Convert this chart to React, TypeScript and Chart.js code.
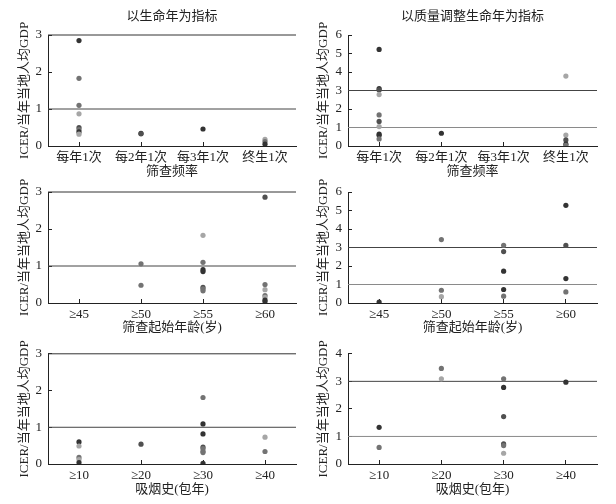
import React, { useEffect, useRef } from "react";
import { Chart, registerables } from "chart.js";

Chart.register(...registerables);

// ---------- categories ----------
const freqCats = ["每年1次", "每2年1次", "每3年1次", "终生1次"];
const ageCats = ["≥45", "≥50", "≥55", "≥60"];
const smokeCats = ["≥10", "≥20", "≥30", "≥40"];

// ---------- column / axis titles ----------
const colTitles = ["以生命年为指标", "以质量调整生命年为指标"];
const yTitle = "ICER/当年当地人均GDP";
const rowXTitles = ["筛查频率", "筛查起始年龄(岁)", "吸烟史(包年)"];

// ---------- values (per category) ----------
// 以生命年为指标 × 筛查频率
const lyFreq = [[2.85, 1.83, 1.1, 0.87, 0.5, 0.44, 0.38, 0.32], [0.34, 0.33], [0.46], [0.18, 0.12, 0.05]];
const lyFreqShade = [["d", "m", "m", "l", "g", "m", "d", "l"], ["d", "g"], ["d"], ["l", "m", "d"]];
// 以质量调整生命年为指标 × 筛查频率
const qFreq = [[5.22, 3.1, 3.03, 2.78, 1.68, 1.33, 1.05, 0.65, 0.58, 0.38], [0.69], [], [3.78, 0.59, 0.33, 0.1, 0.04]];
const qFreqShade = [["d", "d", "g", "l", "m", "g", "l", "d", "d", "m"], ["d"], [], ["l", "l", "g", "d", "m"]];
// 以生命年为指标 × 筛查起始年龄
const lyAge = [[], [1.06, 0.48], [1.83, 1.1, 0.9, 0.85, 0.42, 0.38, 0.33], [2.86, 0.5, 0.36, 0.2, 0.15, 0.08, 0.04]];
const lyAgeShade = [[], ["m", "m"], ["l", "m", "d", "d", "g", "m", "m"], ["g", "m", "l", "m", "l", "d", "d"]];
// 以质量调整生命年为指标 × 筛查起始年龄
const qAge = [[0.05], [3.43, 0.69, 0.34], [3.12, 2.78, 1.72, 0.73, 0.37], [5.28, 3.11, 1.32, 0.6]];
const qAgeShade = [["d"], ["m", "m", "l"], ["m", "g", "d", "d", "m"], ["d", "g", "d", "m"]];
// 以生命年为指标 × 吸烟史
const lySmoke = [[0.6, 0.49, 0.18, 0.12, 0.04], [0.54], [1.81, 1.09, 0.82, 0.46, 0.42, 0.35, 0.31, 0.02], [0.73, 0.34]];
const lySmokeShade = [["d", "l", "m", "l", "d"], ["g"], ["m", "d", "d", "g", "m", "m", "m", "d"], ["l", "m"]];
// 以质量调整生命年为指标 × 吸烟史
const qSmoke = [[1.33, 0.6], [3.47, 3.09], [3.09, 2.78, 1.72, 0.73, 0.67, 0.39], [2.97]];
const qSmokeShade = [["d", "m"], ["m", "l"], ["m", "d", "g", "g", "m", "l"], ["d"]];

// ---------- y ranges & reference lines ----------
const lyMax = [3, 3, 3];
const qMax = [6, 6, 4];
const refLines = [1, 3];

const SHADES: Record<string, string> = {
  d: "#333333",
  g: "#505050",
  m: "#737373",
  l: "#a6a6a6",
};

const FONT = "'Liberation Serif', 'Times New Roman', 'Noto Sans CJK SC', serif";

type PanelProps = {
  cats: string[];
  values: number[][];
  shades: string[][];
  yMax: number;
  lineColors: string[];
  title?: string;
  xTitle: string;
  left: number;
  top: number;
  width: number;
  height: number;
  padL: number;
  padR: number;
  padT: number;
  yScaleW: number;
  yTitlePad: number;
  xScaleH: number;
  xTitlePadB: number;
};

function Panel(p: PanelProps) {
  const ref = useRef<HTMLCanvasElement | null>(null);
  useEffect(() => {
    if (!ref.current) return;
    const pts: { x: number; y: number }[] = [];
    const cols: string[] = [];
    p.values.forEach((arr, i) => {
      arr.forEach((v, j) => {
        pts.push({ x: i, y: v });
        cols.push(SHADES[p.shades[i][j]] || "#555");
      });
    });
    const lineSets: any[] = refLines.map((v, k) => ({
      type: "line",
      data: [
        { x: -0.5, y: v },
        { x: p.cats.length - 0.5, y: v },
      ],
      borderColor: p.lineColors[k],
      borderWidth: 1,
      pointRadius: 0,
      fill: false,
      clip: 2,
      order: 2,
    }));
    const chart = new Chart(ref.current, {
      type: "scatter",
      data: {
        datasets: [
          ...lineSets,
          {
            type: "scatter",
            data: pts,
            backgroundColor: cols,
            pointBackgroundColor: cols,
            pointBorderWidth: 0,
            pointRadius: 2.6,
            order: 1,
          },
        ],
      },
      options: {
        animation: false,
        responsive: false,
        layout: { padding: { left: p.padL, right: p.padR, top: p.padT, bottom: 0 } },
        plugins: {
          legend: { display: false },
          tooltip: { enabled: false },
          title: p.title
            ? {
                display: true,
                text: p.title,
                fullSize: false,
                color: "#222",
                font: { family: FONT, size: 13, weight: "normal" },
                padding: { top: 8.7, bottom: 10.7 },
              }
            : { display: false },
        },
        scales: {
          x: {
            type: "linear",
            min: -0.5,
            max: p.cats.length - 0.5,
            afterBuildTicks: (s: any) => {
              s.ticks = p.cats.map((_, i) => ({ value: i }));
            },
            afterFit: (s: any) => {
              s.height = p.xScaleH;
            },
            ticks: {
              autoSkip: false,
              maxRotation: 0,
              padding: 8,
              color: "#222",
              font: { family: FONT, size: 13 },
              callback: (v: any) => p.cats[Math.round(Number(v))] ?? "",
            },
            grid: { drawOnChartArea: false, tickLength: -4, color: "#222", lineWidth: 1 },
            border: { display: true, color: "#222", width: 1 },
            title: {
              display: true,
              text: p.xTitle,
              color: "#222",
              font: { family: FONT, size: 13 },
              padding: { top: 0, bottom: p.xTitlePadB },
            },
          },
          y: {
            type: "linear",
            min: 0,
            max: p.yMax,
            afterFit: (s: any) => {
              s.width = p.yScaleW;
            },
            ticks: {
              stepSize: 1,
              autoSkip: false,
              padding: 10,
              color: "#222",
              font: { family: FONT, size: 13 },
            },
            grid: { drawOnChartArea: false, tickLength: -4, color: "#222", lineWidth: 1 },
            border: { display: true, color: "#222", width: 1 },
            title: {
              display: true,
              text: yTitle,
              color: "#222",
              font: { family: FONT, size: 13 },
              padding: { top: p.yTitlePad, bottom: 0 },
            },
          },
        },
      } as any,
    });
    return () => chart.destroy();
  }, []);
  return (
    <canvas
      ref={ref}
      width={p.width}
      height={p.height}
      style={{ position: "absolute", left: p.left, top: p.top, width: p.width, height: p.height }}
    />
  );
}

const rows = [
  { top: 0, height: 182, padT: 0, xScaleH: 36, xTitlePadB: 2.7 },
  { top: 174, height: 166, padT: 18, xScaleH: 37, xTitlePadB: 4.2 },
  { top: 336, height: 168, padT: 16, xScaleH: 40, xTitlePadB: 6.2 },
];
const colsGeo = [
  { left: 0, width: 308, padL: 4, padR: 12, yScaleW: 44, yTitlePad: 13.2 },
  { left: 306, width: 310, padL: 0, padR: 19, yScaleW: 42, yTitlePad: 10.2 },
];

export default function App() {
  const rowCats = [freqCats, ageCats, smokeCats];
  const lyVals = [lyFreq, lyAge, lySmoke];
  const lyShades = [lyFreqShade, lyAgeShade, lySmokeShade];
  const qVals = [qFreq, qAge, qSmoke];
  const qShades = [qFreqShade, qAgeShade, qSmokeShade];
  const panels: React.ReactNode[] = [];
  rows.forEach((r, ri) => {
    [0, 1].forEach((ci) => {
      const c = colsGeo[ci];
      panels.push(
        <Panel
          key={`${ri}-${ci}`}
          cats={rowCats[ri]}
          values={ci === 0 ? lyVals[ri] : qVals[ri]}
          shades={ci === 0 ? lyShades[ri] : qShades[ri]}
          yMax={ci === 0 ? lyMax[ri] : qMax[ri]}
          lineColors={ci === 0 ? ["#444", "#333"] : ["#8a8a8a", "#444"]}
          title={ri === 0 ? colTitles[ci] : undefined}
          xTitle={rowXTitles[ri]}
          left={c.left}
          top={r.top}
          width={c.width}
          height={r.height}
          padL={c.padL}
          padR={c.padR}
          padT={r.padT}
          yScaleW={c.yScaleW}
          yTitlePad={c.yTitlePad}
          xScaleH={r.xScaleH}
          xTitlePadB={r.xTitlePadB}
        />
      );
    });
  });
  return (
    <div style={{ position: "absolute", left: 0, top: 0, width: 616, height: 504, background: "#fff" }}>
      {panels}
    </div>
  );
}
